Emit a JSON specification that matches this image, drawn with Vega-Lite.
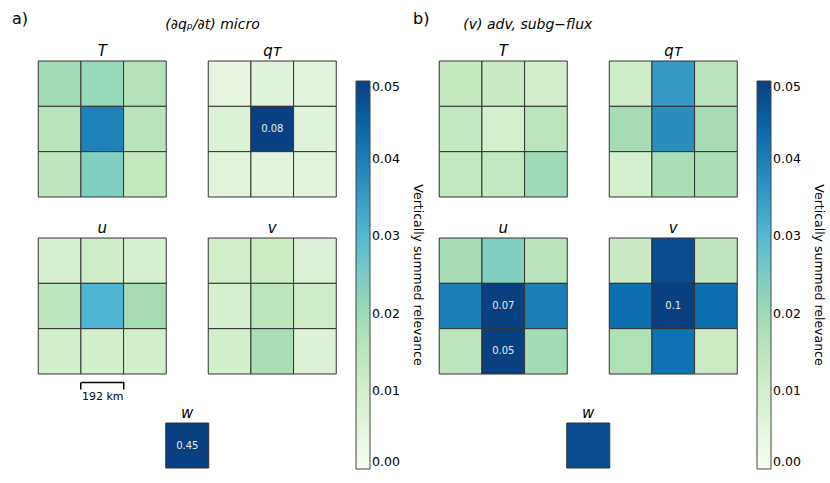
{
  "$schema": "https://vega.github.io/schema/vega-lite/v6.json",
  "padding": {"top": 10, "left": 12, "right": 3, "bottom": 5},
  "background": "white",
  "config": {
    "font": "DejaVu Sans",
    "view": {"stroke": null},
    "title": {"font": "DejaVu Sans", "fontWeight": "normal", "fontSize": 15, "color": "black", "offset": 2},
    "legend": {
      "orient": "none",
      "legendX": 318,
      "legendY": 20,
      "gradientLength": 388,
      "gradientThickness": 14,
      "gradientStrokeColor": "#444",
      "gradientStrokeWidth": 1,
      "labelFontSize": 12.5,
      "labelFont": "DejaVu Sans",
      "labelColor": "black",
      "labelOverlap": false,
      "labelOffset": 4,
      "titleFontSize": 12.5,
      "titleFont": "DejaVu Sans",
      "titleFontWeight": "normal",
      "titleColor": "black",
      "titleOrient": "right",
      "titleAngle": 270,
      "titleAnchor": "middle",
      "titlePadding": 11,
      "titleLimit": 600
    }
  },
  "datasets": {
    "cells": [
      {"p":"a","v":"T","r":0,"c":0,"val":0.0195},{"p":"a","v":"T","r":0,"c":1,"val":0.021},{"p":"a","v":"T","r":0,"c":2,"val":0.017},
      {"p":"a","v":"T","r":1,"c":0,"val":0.016},{"p":"a","v":"T","r":1,"c":1,"val":0.0395},{"p":"a","v":"T","r":1,"c":2,"val":0.016},
      {"p":"a","v":"T","r":2,"c":0,"val":0.0145},{"p":"a","v":"T","r":2,"c":1,"val":0.024},{"p":"a","v":"T","r":2,"c":2,"val":0.0135},
      {"p":"a","v":"qT","r":0,"c":0,"val":0.0045},{"p":"a","v":"qT","r":0,"c":1,"val":0.0065},{"p":"a","v":"qT","r":0,"c":2,"val":0.0055},
      {"p":"a","v":"qT","r":1,"c":0,"val":0.008},{"p":"a","v":"qT","r":1,"c":1,"val":0.08},{"p":"a","v":"qT","r":1,"c":2,"val":0.0065},
      {"p":"a","v":"qT","r":2,"c":0,"val":0.0055},{"p":"a","v":"qT","r":2,"c":1,"val":0.0055},{"p":"a","v":"qT","r":2,"c":2,"val":0.0055},
      {"p":"a","v":"u","r":0,"c":0,"val":0.0095},{"p":"a","v":"u","r":0,"c":1,"val":0.0115},{"p":"a","v":"u","r":0,"c":2,"val":0.0095},
      {"p":"a","v":"u","r":1,"c":0,"val":0.015},{"p":"a","v":"u","r":1,"c":1,"val":0.031},{"p":"a","v":"u","r":1,"c":2,"val":0.019},
      {"p":"a","v":"u","r":2,"c":0,"val":0.0105},{"p":"a","v":"u","r":2,"c":1,"val":0.0105},{"p":"a","v":"u","r":2,"c":2,"val":0.0105},
      {"p":"a","v":"v","r":0,"c":0,"val":0.011},{"p":"a","v":"v","r":0,"c":1,"val":0.0125},{"p":"a","v":"v","r":0,"c":2,"val":0.0075},
      {"p":"a","v":"v","r":1,"c":0,"val":0.0095},{"p":"a","v":"v","r":1,"c":1,"val":0.0155},{"p":"a","v":"v","r":1,"c":2,"val":0.0115},
      {"p":"a","v":"v","r":2,"c":0,"val":0.0105},{"p":"a","v":"v","r":2,"c":1,"val":0.0185},{"p":"a","v":"v","r":2,"c":2,"val":0.0075},
      {"p":"a","v":"w","r":0,"c":0,"val":0.45},
      {"p":"b","v":"T","r":0,"c":0,"val":0.0135},{"p":"b","v":"T","r":0,"c":1,"val":0.013},{"p":"b","v":"T","r":0,"c":2,"val":0.011},
      {"p":"b","v":"T","r":1,"c":0,"val":0.014},{"p":"b","v":"T","r":1,"c":1,"val":0.010},{"p":"b","v":"T","r":1,"c":2,"val":0.0155},
      {"p":"b","v":"T","r":2,"c":0,"val":0.014},{"p":"b","v":"T","r":2,"c":1,"val":0.014},{"p":"b","v":"T","r":2,"c":2,"val":0.020},
      {"p":"b","v":"qT","r":0,"c":0,"val":0.012},{"p":"b","v":"qT","r":0,"c":1,"val":0.0355},{"p":"b","v":"qT","r":0,"c":2,"val":0.016},
      {"p":"b","v":"qT","r":1,"c":0,"val":0.019},{"p":"b","v":"qT","r":1,"c":1,"val":0.0375},{"p":"b","v":"qT","r":1,"c":2,"val":0.019},
      {"p":"b","v":"qT","r":2,"c":0,"val":0.009},{"p":"b","v":"qT","r":2,"c":1,"val":0.0185},{"p":"b","v":"qT","r":2,"c":2,"val":0.0185},
      {"p":"b","v":"u","r":0,"c":0,"val":0.019},{"p":"b","v":"u","r":0,"c":1,"val":0.024},{"p":"b","v":"u","r":0,"c":2,"val":0.016},
      {"p":"b","v":"u","r":1,"c":0,"val":0.040},{"p":"b","v":"u","r":1,"c":1,"val":0.07},{"p":"b","v":"u","r":1,"c":2,"val":0.040},
      {"p":"b","v":"u","r":2,"c":0,"val":0.015},{"p":"b","v":"u","r":2,"c":1,"val":0.052},{"p":"b","v":"u","r":2,"c":2,"val":0.0195},
      {"p":"b","v":"v","r":0,"c":0,"val":0.013},{"p":"b","v":"v","r":0,"c":1,"val":0.048},{"p":"b","v":"v","r":0,"c":2,"val":0.0145},
      {"p":"b","v":"v","r":1,"c":0,"val":0.0425},{"p":"b","v":"v","r":1,"c":1,"val":0.1},{"p":"b","v":"v","r":1,"c":2,"val":0.0425},
      {"p":"b","v":"v","r":2,"c":0,"val":0.0175},{"p":"b","v":"v","r":2,"c":1,"val":0.042},{"p":"b","v":"v","r":2,"c":2,"val":0.0125},
      {"p":"b","v":"w","r":0,"c":0,"val":0.048}
    ]
  },
  "resolve": {"scale": {"color": "independent"}, "legend": {"color": "independent"}},
  "spacing": -11,
  "hconcat": [
    {
      "title": {"text": "a)", "anchor": "start", "frame": "group", "offset": 0, "dy": 9, "dx": -26, "fontSize": 16},
      "center": true,
      "spacing": 3,
      "vconcat": [
        {
          "spacing": 22,
          "vconcat": [
            {
              "title": {"text": "(∂qₚ/∂t) micro", "anchor": "start", "frame": "group", "offset": 12, "dx": 127, "fontSize": 14, "fontStyle": "italic"},
              "bounds": "flush",
              "spacing": 42,
              "hconcat": [
                {
                  "width": 128, "height": 136,
                  "title": {"text": "T", "fontStyle": "italic"},
                  "data": {"name": "cells"},
                  "transform": [{"filter": "datum.p == 'a' && datum.v == 'T'"}],
                  "encoding": {"x": {"field": "c", "type": "ordinal", "axis": null}, "y": {"field": "r", "type": "ordinal", "axis": null}},
                  "layer": [
                    {"mark": {"type": "rect", "stroke": "#333", "strokeWidth": 1},
                     "encoding": {"color": {"field": "val", "type": "quantitative", "title": "Vertically summed relevance",
                       "scale": {"type": "linear", "domain": [0, 0.00625, 0.0125, 0.01875, 0.025, 0.03125, 0.0375, 0.04375, 0.05], "range": ["#f7fcf0", "#e0f3db", "#ccebc5", "#a8ddb5", "#7bccc4", "#4eb3d3", "#2b8cbe", "#0868ac", "#084081"], "clamp": true},
                       "legend": {"values": [0, 0.01, 0.02, 0.03, 0.04, 0.05], "format": ".2f"}}}},
                    {"transform": [{"filter": "datum.val >= 0.05"}], "mark": {"type": "text", "color": "#e8e8e8", "fontSize": 10}, "encoding": {"text": {"field": "val", "type": "quantitative", "format": ".2~f"}}}
                  ]
                },
                {
                  "width": 128, "height": 136,
                  "title": {"text": "qᴛ", "fontStyle": "italic"},
                  "data": {"name": "cells"},
                  "transform": [{"filter": "datum.p == 'a' && datum.v == 'qT'"}],
                  "encoding": {"x": {"field": "c", "type": "ordinal", "axis": null}, "y": {"field": "r", "type": "ordinal", "axis": null}},
                  "layer": [
                    {"mark": {"type": "rect", "stroke": "#333", "strokeWidth": 1},
                     "encoding": {"color": {"field": "val", "type": "quantitative", "title": "Vertically summed relevance",
                       "scale": {"type": "linear", "domain": [0, 0.00625, 0.0125, 0.01875, 0.025, 0.03125, 0.0375, 0.04375, 0.05], "range": ["#f7fcf0", "#e0f3db", "#ccebc5", "#a8ddb5", "#7bccc4", "#4eb3d3", "#2b8cbe", "#0868ac", "#084081"], "clamp": true},
                       "legend": {"values": [0, 0.01, 0.02, 0.03, 0.04, 0.05], "format": ".2f"}}}},
                    {"transform": [{"filter": "datum.val >= 0.05"}], "mark": {"type": "text", "color": "#e8e8e8", "fontSize": 10}, "encoding": {"text": {"field": "val", "type": "quantitative", "format": ".2~f"}}}
                  ]
                }
              ]
            },
            {
              "bounds": "flush",
              "spacing": 42,
              "hconcat": [
                {
                  "width": 128, "height": 136,
                  "title": {"text": "u", "fontStyle": "italic"},
                  "data": {"name": "cells"},
                  "transform": [{"filter": "datum.p == 'a' && datum.v == 'u'"}],
                  "encoding": {
                    "x": {"field": "c", "type": "ordinal", "axis": {"values": [1, 2], "bandPosition": 0, "labels": false, "domain": true, "domainColor": "black", "domainWidth": 1.5, "domainDash": [0, 42.67, 42.67, 300], "offset": 8, "ticks": true, "tickColor": "black", "tickWidth": 1.5, "tickSize": 7, "title": "192 km", "titleFontSize": 11, "titleFontWeight": "normal", "titlePadding": 1, "titleColor": "black", "titleFont": "DejaVu Sans"}},
                    "y": {"field": "r", "type": "ordinal", "axis": null}
                  },
                  "layer": [
                    {"mark": {"type": "rect", "stroke": "#333", "strokeWidth": 1},
                     "encoding": {"color": {"field": "val", "type": "quantitative", "title": "Vertically summed relevance",
                       "scale": {"type": "linear", "domain": [0, 0.00625, 0.0125, 0.01875, 0.025, 0.03125, 0.0375, 0.04375, 0.05], "range": ["#f7fcf0", "#e0f3db", "#ccebc5", "#a8ddb5", "#7bccc4", "#4eb3d3", "#2b8cbe", "#0868ac", "#084081"], "clamp": true},
                       "legend": {"values": [0, 0.01, 0.02, 0.03, 0.04, 0.05], "format": ".2f"}}}},
                    {"transform": [{"filter": "datum.val >= 0.05"}], "mark": {"type": "text", "color": "#e8e8e8", "fontSize": 10}, "encoding": {"text": {"field": "val", "type": "quantitative", "format": ".2~f"}}}
                  ]
                },
                {
                  "width": 128, "height": 136,
                  "title": {"text": "v", "fontStyle": "italic"},
                  "data": {"name": "cells"},
                  "transform": [{"filter": "datum.p == 'a' && datum.v == 'v'"}],
                  "encoding": {"x": {"field": "c", "type": "ordinal", "axis": null}, "y": {"field": "r", "type": "ordinal", "axis": null}},
                  "layer": [
                    {"mark": {"type": "rect", "stroke": "#333", "strokeWidth": 1},
                     "encoding": {"color": {"field": "val", "type": "quantitative", "title": "Vertically summed relevance",
                       "scale": {"type": "linear", "domain": [0, 0.00625, 0.0125, 0.01875, 0.025, 0.03125, 0.0375, 0.04375, 0.05], "range": ["#f7fcf0", "#e0f3db", "#ccebc5", "#a8ddb5", "#7bccc4", "#4eb3d3", "#2b8cbe", "#0868ac", "#084081"], "clamp": true},
                       "legend": {"values": [0, 0.01, 0.02, 0.03, 0.04, 0.05], "format": ".2f"}}}},
                    {"transform": [{"filter": "datum.val >= 0.05"}], "mark": {"type": "text", "color": "#e8e8e8", "fontSize": 10}, "encoding": {"text": {"field": "val", "type": "quantitative", "format": ".2~f"}}}
                  ]
                }
              ]
            }
          ]
        },
        {
          "width": 43, "height": 45,
          "title": {"text": "w", "fontStyle": "italic"},
          "data": {"name": "cells"},
          "transform": [{"filter": "datum.p == 'a' && datum.v == 'w'"}],
          "encoding": {"x": {"field": "c", "type": "ordinal", "axis": null}, "y": {"field": "r", "type": "ordinal", "axis": null}},
          "layer": [
            {"mark": {"type": "rect", "stroke": "#333", "strokeWidth": 1},
             "encoding": {"color": {"field": "val", "type": "quantitative", "title": "Vertically summed relevance",
               "scale": {"type": "linear", "domain": [0, 0.00625, 0.0125, 0.01875, 0.025, 0.03125, 0.0375, 0.04375, 0.05], "range": ["#f7fcf0", "#e0f3db", "#ccebc5", "#a8ddb5", "#7bccc4", "#4eb3d3", "#2b8cbe", "#0868ac", "#084081"], "clamp": true},
               "legend": {"values": [0, 0.01, 0.02, 0.03, 0.04, 0.05], "format": ".2f"}}}},
            {"transform": [{"filter": "datum.val >= 0.05"}], "mark": {"type": "text", "color": "#e8e8e8", "fontSize": 10}, "encoding": {"text": {"field": "val", "type": "quantitative", "format": ".2~f"}}}
          ]
        }
      ]
    },
    {
      "title": {"text": "b)", "anchor": "start", "frame": "group", "offset": 0, "dy": 9, "dx": -26, "fontSize": 16},
      "center": true,
      "spacing": 30,
      "vconcat": [
        {
          "spacing": 22,
          "vconcat": [
            {
              "title": {"text": "(v) adv, subg−flux", "anchor": "start", "frame": "group", "offset": 12, "dx": 24, "fontSize": 14, "fontStyle": "italic"},
              "bounds": "flush",
              "spacing": 42,
              "hconcat": [
                {
                  "width": 128, "height": 136,
                  "title": {"text": "T", "fontStyle": "italic"},
                  "data": {"name": "cells"},
                  "transform": [{"filter": "datum.p == 'b' && datum.v == 'T'"}],
                  "encoding": {"x": {"field": "c", "type": "ordinal", "axis": null}, "y": {"field": "r", "type": "ordinal", "axis": null}},
                  "layer": [
                    {"mark": {"type": "rect", "stroke": "#333", "strokeWidth": 1},
                     "encoding": {"color": {"field": "val", "type": "quantitative", "title": "Vertically summed relevance",
                       "scale": {"type": "linear", "domain": [0, 0.00625, 0.0125, 0.01875, 0.025, 0.03125, 0.0375, 0.04375, 0.05], "range": ["#f7fcf0", "#e0f3db", "#ccebc5", "#a8ddb5", "#7bccc4", "#4eb3d3", "#2b8cbe", "#0868ac", "#084081"], "clamp": true},
                       "legend": {"values": [0, 0.01, 0.02, 0.03, 0.04, 0.05], "format": ".2f"}}}},
                    {"transform": [{"filter": "datum.val >= 0.05"}], "mark": {"type": "text", "color": "#e8e8e8", "fontSize": 10}, "encoding": {"text": {"field": "val", "type": "quantitative", "format": ".2~f"}}}
                  ]
                },
                {
                  "width": 128, "height": 136,
                  "title": {"text": "qᴛ", "fontStyle": "italic"},
                  "data": {"name": "cells"},
                  "transform": [{"filter": "datum.p == 'b' && datum.v == 'qT'"}],
                  "encoding": {"x": {"field": "c", "type": "ordinal", "axis": null}, "y": {"field": "r", "type": "ordinal", "axis": null}},
                  "layer": [
                    {"mark": {"type": "rect", "stroke": "#333", "strokeWidth": 1},
                     "encoding": {"color": {"field": "val", "type": "quantitative", "title": "Vertically summed relevance",
                       "scale": {"type": "linear", "domain": [0, 0.00625, 0.0125, 0.01875, 0.025, 0.03125, 0.0375, 0.04375, 0.05], "range": ["#f7fcf0", "#e0f3db", "#ccebc5", "#a8ddb5", "#7bccc4", "#4eb3d3", "#2b8cbe", "#0868ac", "#084081"], "clamp": true},
                       "legend": {"values": [0, 0.01, 0.02, 0.03, 0.04, 0.05], "format": ".2f"}}}},
                    {"transform": [{"filter": "datum.val >= 0.05"}], "mark": {"type": "text", "color": "#e8e8e8", "fontSize": 10}, "encoding": {"text": {"field": "val", "type": "quantitative", "format": ".2~f"}}}
                  ]
                }
              ]
            },
            {
              "bounds": "flush",
              "spacing": 42,
              "hconcat": [
                {
                  "width": 128, "height": 136,
                  "title": {"text": "u", "fontStyle": "italic"},
                  "data": {"name": "cells"},
                  "transform": [{"filter": "datum.p == 'b' && datum.v == 'u'"}],
                  "encoding": {"x": {"field": "c", "type": "ordinal", "axis": null}, "y": {"field": "r", "type": "ordinal", "axis": null}},
                  "layer": [
                    {"mark": {"type": "rect", "stroke": "#333", "strokeWidth": 1},
                     "encoding": {"color": {"field": "val", "type": "quantitative", "title": "Vertically summed relevance",
                       "scale": {"type": "linear", "domain": [0, 0.00625, 0.0125, 0.01875, 0.025, 0.03125, 0.0375, 0.04375, 0.05], "range": ["#f7fcf0", "#e0f3db", "#ccebc5", "#a8ddb5", "#7bccc4", "#4eb3d3", "#2b8cbe", "#0868ac", "#084081"], "clamp": true},
                       "legend": {"values": [0, 0.01, 0.02, 0.03, 0.04, 0.05], "format": ".2f"}}}},
                    {"transform": [{"filter": "datum.val >= 0.05"}], "mark": {"type": "text", "color": "#e8e8e8", "fontSize": 10}, "encoding": {"text": {"field": "val", "type": "quantitative", "format": ".2~f"}}}
                  ]
                },
                {
                  "width": 128, "height": 136,
                  "title": {"text": "v", "fontStyle": "italic"},
                  "data": {"name": "cells"},
                  "transform": [{"filter": "datum.p == 'b' && datum.v == 'v'"}],
                  "encoding": {"x": {"field": "c", "type": "ordinal", "axis": null}, "y": {"field": "r", "type": "ordinal", "axis": null}},
                  "layer": [
                    {"mark": {"type": "rect", "stroke": "#333", "strokeWidth": 1},
                     "encoding": {"color": {"field": "val", "type": "quantitative", "title": "Vertically summed relevance",
                       "scale": {"type": "linear", "domain": [0, 0.00625, 0.0125, 0.01875, 0.025, 0.03125, 0.0375, 0.04375, 0.05], "range": ["#f7fcf0", "#e0f3db", "#ccebc5", "#a8ddb5", "#7bccc4", "#4eb3d3", "#2b8cbe", "#0868ac", "#084081"], "clamp": true},
                       "legend": {"values": [0, 0.01, 0.02, 0.03, 0.04, 0.05], "format": ".2f"}}}},
                    {"transform": [{"filter": "datum.val >= 0.05"}], "mark": {"type": "text", "color": "#e8e8e8", "fontSize": 10}, "encoding": {"text": {"field": "val", "type": "quantitative", "format": ".2~f"}}}
                  ]
                }
              ]
            }
          ]
        },
        {
          "width": 43, "height": 45,
          "title": {"text": "w", "fontStyle": "italic"},
          "data": {"name": "cells"},
          "transform": [{"filter": "datum.p == 'b' && datum.v == 'w'"}],
          "encoding": {"x": {"field": "c", "type": "ordinal", "axis": null}, "y": {"field": "r", "type": "ordinal", "axis": null}},
          "layer": [
            {"mark": {"type": "rect", "stroke": "#333", "strokeWidth": 1},
             "encoding": {"color": {"field": "val", "type": "quantitative", "title": "Vertically summed relevance",
               "scale": {"type": "linear", "domain": [0, 0.00625, 0.0125, 0.01875, 0.025, 0.03125, 0.0375, 0.04375, 0.05], "range": ["#f7fcf0", "#e0f3db", "#ccebc5", "#a8ddb5", "#7bccc4", "#4eb3d3", "#2b8cbe", "#0868ac", "#084081"], "clamp": true},
               "legend": {"values": [0, 0.01, 0.02, 0.03, 0.04, 0.05], "format": ".2f"}}}},
            {"transform": [{"filter": "datum.val >= 0.05"}], "mark": {"type": "text", "color": "#e8e8e8", "fontSize": 10}, "encoding": {"text": {"field": "val", "type": "quantitative", "format": ".2~f"}}}
          ]
        }
      ]
    }
  ]
}
